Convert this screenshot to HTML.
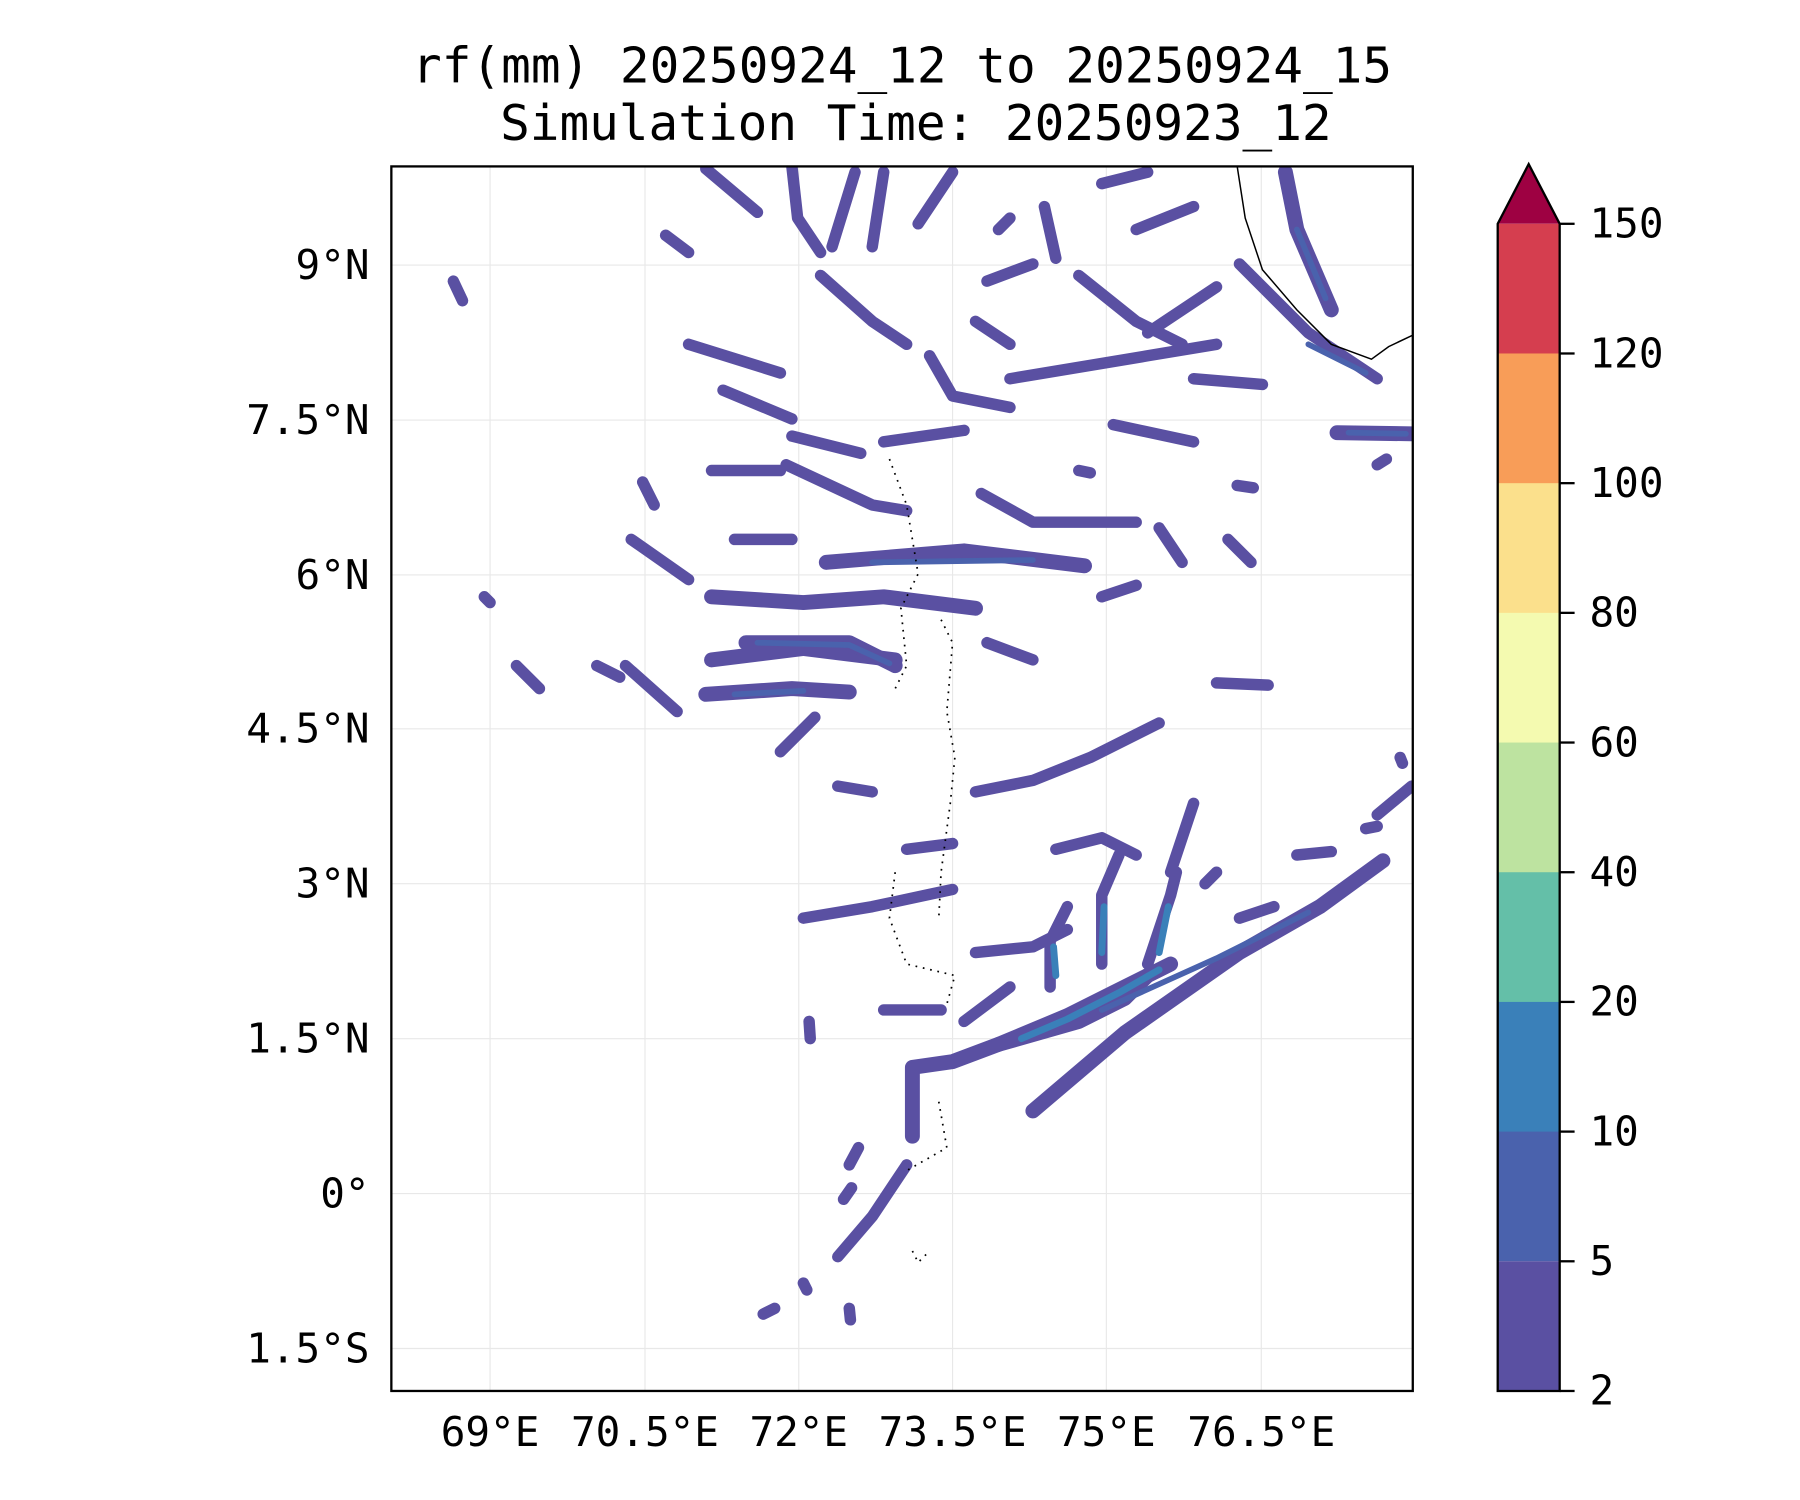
<!DOCTYPE html>
<html><head><meta charset="utf-8"><style>html,body{margin:0;padding:0;background:#fff}svg{display:block}</style></head>
<body>
<svg width="1800" height="1500" viewBox="0 0 1568 1307" preserveAspectRatio="xMinYMin meet" xmlns="http://www.w3.org/2000/svg" font-family="DejaVu Sans Mono, Liberation Mono, monospace">
<rect width="1568" height="1307" fill="#fff"/>
<text x="786" y="72" font-size="43" text-anchor="middle">rf(mm) 20250924_12 to 20250924_15</text>
<text x="798" y="122" font-size="43" text-anchor="middle">Simulation Time: 20250923_12</text>
<clipPath id="c"><rect x="341" y="145" width="890" height="1067"/></clipPath>
<g stroke="#e8e8e8" stroke-width="1">
<line x1="427" y1="145" x2="427" y2="1212"/><line x1="562" y1="145" x2="562" y2="1212"/><line x1="696" y1="145" x2="696" y2="1212"/><line x1="830" y1="145" x2="830" y2="1212"/><line x1="964" y1="145" x2="964" y2="1212"/><line x1="1099" y1="145" x2="1099" y2="1212"/>
<line x1="341" y1="231" x2="1231" y2="231"/><line x1="341" y1="366" x2="1231" y2="366"/><line x1="341" y1="501" x2="1231" y2="501"/><line x1="341" y1="635" x2="1231" y2="635"/><line x1="341" y1="770" x2="1231" y2="770"/><line x1="341" y1="905" x2="1231" y2="905"/><line x1="341" y1="1040" x2="1231" y2="1040"/><line x1="341" y1="1175" x2="1231" y2="1175"/>
</g>
<g clip-path="url(#c)" fill="none" stroke="#5a50a2" stroke-linecap="round" stroke-linejoin="round">
<g stroke-width="10">
<polyline points="690,145 695,190 715,220"/><polyline points="715,240 760,280 790,300"/><polyline points="745,150 725,215"/><polyline points="770,150 760,215"/><polyline points="830,150 800,195"/><polyline points="615,147 660,185"/>
<polyline points="810,310 830,345 880,355"/><polyline points="910,180 920,225"/><polyline points="990,200 1040,180"/><polyline points="880,330 1000,310 1060,300"/><polyline points="1000,290 1060,250"/>
<polyline points="970,370 1040,385"/><polyline points="1040,330 1100,335"/><polyline points="1080,230 1140,290 1200,330"/><polyline points="940,240 990,280 1030,300"/>
<polyline points="600,300 680,325"/><polyline points="630,340 690,365"/><polyline points="690,380 750,395"/><polyline points="770,385 840,375"/>
<polyline points="550,470 600,505"/><polyline points="545,580 590,620"/><polyline points="855,430 900,455 990,455"/><polyline points="685,405 760,440 790,445"/><polyline points="620,410 680,410"/><polyline points="560,420 570,440"/>
<polyline points="1060,595 1105,597"/><polyline points="850,690 900,680 950,660 1010,630"/><polyline points="680,655 710,625"/><polyline points="730,685 760,690"/>
<polyline points="730,1095 760,1060 790,1015"/><polyline points="700,800 760,790 830,775"/><polyline points="850,830 900,825 930,810"/><polyline points="1130,745 1160,742"/><polyline points="1200,710 1230,685"/>
<polyline points="770,880 820,880"/><polyline points="840,890 880,860"/><polyline points="790,740 830,735"/><polyline points="920,740 960,730 990,745"/>
<polyline points="915,860 915,820 930,790"/><polyline points="960,840 960,780 975,745"/><polyline points="1000,840 1020,780 1025,760"/><polyline points="1020,760 1040,700"/>
<polyline points="860,245 900,230"/><polyline points="960,160 1000,150"/><polyline points="850,280 880,300"/><polyline points="640,470 690,470"/><polyline points="860,560 900,575"/>
<polyline points="1070,470 1090,490"/><polyline points="1010,460 1030,490"/><polyline points="960,520 990,510"/><polyline points="450,580 470,600"/><polyline points="520,580 540,590"/>
<polyline points="580,205 600,220"/><polyline points="1080,800 1110,790"/><polyline points="1050,770 1060,760"/><polyline points="665,1145 675,1140"/><polyline points="700,1118 703,1124"/><polyline points="740,1140 741,1150"/>
<polyline points="395,245 403,262"/><polyline points="422,520 427,525"/><polyline points="705,890 706,905"/><polyline points="1078,423 1092,425"/><polyline points="1200,405 1208,400"/>
<polyline points="1220,660 1222,665"/><polyline points="1190,722 1200,720"/><polyline points="740,1015 748,1000"/><polyline points="735,1045 742,1035"/><polyline points="940,410 950,412"/><polyline points="870,200 880,190"/>
</g>
<g stroke-width="13">
<polyline points="1120,150 1130,200 1160,270"/><polyline points="1165,377 1230,378"/>
<polyline points="720,490 840,480 945,493"/><polyline points="620,520 700,525 770,520 850,530"/><polyline points="620,575 700,565 780,575"/><polyline points="650,560 740,560 780,580"/><polyline points="615,605 690,600 740,603"/>
<polyline points="900,968 980,900 1080,830 1150,790 1205,750"/>
<polyline points="795,990 795,930 830,925 870,910 940,890 980,870 1000,850"/>
<polyline points="870,910 930,885 970,865 1020,840"/>
</g>
<g stroke="#4a62ad" stroke-width="5">
<polyline points="1175,377 1225,378"/><polyline points="660,560 740,562 775,578"/><polyline points="760,490 900,488"/><polyline points="1130,200 1155,260"/><polyline points="1140,300 1190,325"/>
<polyline points="960,880 1060,835 1140,795"/><polyline points="640,605 700,602"/>
</g>
<g stroke="#3a80b9" stroke-width="6">
<polyline points="890,905 930,888 975,865 1010,845"/><polyline points="920,850 918,825"/><polyline points="960,830 962,790"/><polyline points="1010,830 1018,790"/>
</g>
</g>
<g clip-path="url(#c)" fill="none" stroke="#000">
<polyline stroke-width="1.3" points="1078,145 1085,190 1100,235 1130,270 1160,300 1195,313 1210,302 1231,292"/>
<g stroke-width="1.5" stroke-dasharray="1.5 5">
<polyline points="775,400 790,440 800,500 785,530 790,580 780,600"/><polyline points="820,540 830,560 825,620 832,660 828,700 820,760 818,800"/><polyline points="780,760 775,800 790,840 832,850 825,875"/><polyline points="818,960 825,1000 790,1020"/><polyline points="795,1090 800,1100 808,1092"/>
</g>
</g>
<rect x="341" y="145" width="890" height="1067" fill="none" stroke="#000" stroke-width="2"/>
<g font-size="35.7" text-anchor="end">
<text x="322" y="243">9°N</text><text x="322" y="378">7.5°N</text><text x="322" y="513">6°N</text><text x="322" y="647">4.5°N</text><text x="322" y="782">3°N</text><text x="322" y="917">1.5°N</text><text x="322" y="1052">0°</text><text x="322" y="1187">1.5°S</text>
</g>
<g font-size="35.7" text-anchor="middle">
<text x="427" y="1260">69°E</text><text x="562" y="1260">70.5°E</text><text x="696" y="1260">72°E</text><text x="830" y="1260">73.5°E</text><text x="964" y="1260">75°E</text><text x="1099" y="1260">76.5°E</text>
</g>
<g stroke="none">
<polygon points="1305,195 1332,143 1359,195" fill="#9e0142"/>
<rect x="1305" y="195" width="54" height="114" fill="#d53e4f"/>
<rect x="1305" y="308" width="54" height="114" fill="#f89d58"/>
<rect x="1305" y="421" width="54" height="114" fill="#fbe08c"/>
<rect x="1305" y="534" width="54" height="114" fill="#f4fab0"/>
<rect x="1305" y="647" width="54" height="114" fill="#bde3a0"/>
<rect x="1305" y="760" width="54" height="114" fill="#64bfa8"/>
<rect x="1305" y="873" width="54" height="114" fill="#3a80b9"/>
<rect x="1305" y="986" width="54" height="113" fill="#4a62ad"/>
<rect x="1305" y="1099" width="54" height="113" fill="#5a50a2"/>
</g>
<polygon points="1305,1212 1305,195 1332,143 1359,195 1359,1212" fill="none" stroke="#000" stroke-width="2"/>
<g stroke="#000" stroke-width="2">
<line x1="1359" y1="195" x2="1372" y2="195"/><line x1="1359" y1="308" x2="1372" y2="308"/><line x1="1359" y1="421" x2="1372" y2="421"/><line x1="1359" y1="534" x2="1372" y2="534"/><line x1="1359" y1="647" x2="1372" y2="647"/><line x1="1359" y1="760" x2="1372" y2="760"/><line x1="1359" y1="873" x2="1372" y2="873"/><line x1="1359" y1="986" x2="1372" y2="986"/><line x1="1359" y1="1099" x2="1372" y2="1099"/><line x1="1359" y1="1212" x2="1372" y2="1212"/>
</g>
<g font-size="35.7">
<text x="1385" y="207">150</text><text x="1385" y="320">120</text><text x="1385" y="433">100</text><text x="1385" y="546">80</text><text x="1385" y="659">60</text><text x="1385" y="772">40</text><text x="1385" y="885">20</text><text x="1385" y="998">10</text><text x="1385" y="1111">5</text><text x="1385" y="1224">2</text>
</g>
</svg>
</body></html>
